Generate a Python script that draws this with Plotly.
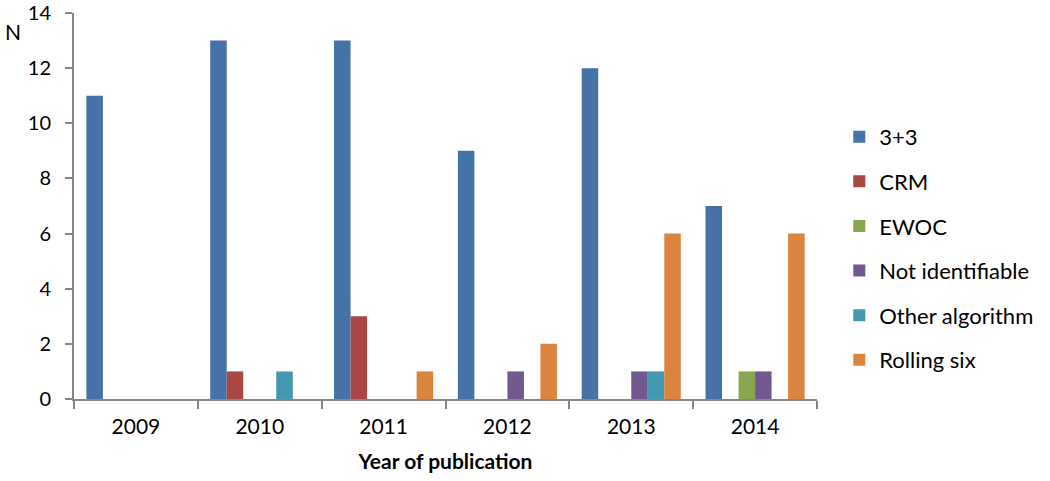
import plotly.graph_objects as go

years = ["2009", "2010", "2011", "2012", "2013", "2014"]
series_names = ["3+3", "CRM", "EWOC", "Not identifiable", "Other algorithm", "Rolling six"]
v_33 = [11, 13, 13, 9, 12, 7]
v_crm = [0, 1, 3, 0, 0, 0]
v_ewoc = [0, 0, 0, 0, 0, 1]
v_notid = [0, 0, 0, 1, 1, 1]
v_other = [0, 1, 0, 0, 1, 0]
v_roll = [0, 0, 1, 2, 6, 6]
values = [v_33, v_crm, v_ewoc, v_notid, v_other, v_roll]
colors = ["#4572A7", "#AA4643", "#89A54E", "#71588F", "#4198AF", "#DB843D"]

FONT = "Lato, 'Open Sans', sans-serif"

fig = go.Figure()
for i, (name, vals, col) in enumerate(zip(series_names, values, colors)):
    fig.add_trace(go.Bar(x=years, y=vals, name=name, marker_color=col,
                         marker_line_width=0, legendgroup=f"g{i}"))

axis_col = "#868686"
fig.update_layout(
    width=1050, height=481,
    margin=dict(l=74, r=220, t=13, b=82),
    paper_bgcolor="white", plot_bgcolor="white",
    barmode="group", bargap=0.2, bargroupgap=0,
    font=dict(family=FONT, size=21, color="black"),
    xaxis=dict(showline=True, linecolor=axis_col, linewidth=2, automargin=False,
               ticks="outside", tickson="boundaries", ticklen=8, tickcolor=axis_col, tickwidth=2,
               ticklabelstandoff=8,
               showgrid=False, tickfont=dict(size=21),
               title=dict(text="<b>Year of publication</b>", font=dict(size=21), standoff=17)),
    yaxis=dict(range=[0, 14.0001], dtick=2, showline=True, linecolor=axis_col, linewidth=2,
               automargin=False, ticks="outside", ticklen=7, tickcolor=axis_col, tickwidth=2,
               ticklabelstandoff=10, ticklabeloverflow="allow",
               showgrid=False, zeroline=False, tickfont=dict(size=20)),
    legend=dict(x=1.03, xanchor="left", y=0.39, yanchor="middle",
                traceorder="grouped", tracegroupgap=13,
                font=dict(size=22), itemwidth=30),
    annotations=[dict(text="N", xref="paper", yref="paper", x=-0.095, y=0.953,
                      xanchor="left", yanchor="middle", showarrow=False,
                      font=dict(size=21))],
)

fig.write_html("out.html", config={"displayModeBar": False},
               post_script="document.body.style.margin='0';")
